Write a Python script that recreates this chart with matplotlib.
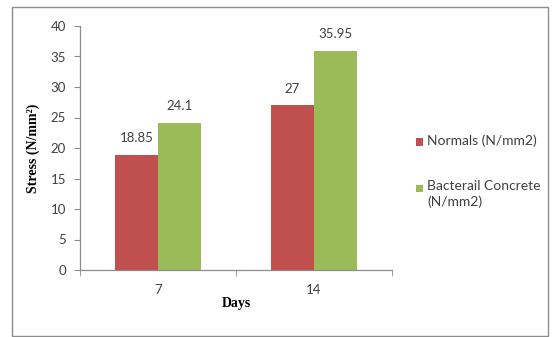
import matplotlib
matplotlib.use("Agg")
import matplotlib.pyplot as plt
from matplotlib.patches import Rectangle
import numpy as np

categories = ["7", "14"]
series_names = ["Normals (N/mm2)", "Bacterail Concrete\n(N/mm2)"]
normals = [18.85, 27]
bacterial = [24.1, 35.95]
value_labels_normals = ["18.85", "27"]
value_labels_bacterial = ["24.1", "35.95"]
colors = ["#C0504D", "#9BBB59"]
yticks = [0, 5, 10, 15, 20, 25, 30, 35, 40]

W, H = 553, 337
fig = plt.figure(figsize=(W / 100, H / 100), dpi=100)
fig.patch.set_facecolor("white")

# outer chart frame
fig.patches.append(Rectangle((12 / W, 1 - 336 / H), (548 - 12) / W, (336 - 7) / H,
                             transform=fig.transFigure, fill=False,
                             edgecolor="#8c8c8c", linewidth=1.0))

ax = fig.add_axes([80 / W, 1 - 270 / H, (392 - 80) / W, (270 - 26) / H])
x = np.arange(len(categories))
bw = 0.277
b1 = ax.bar(x - bw / 2, normals, bw, color=colors[0], edgecolor="none")
b2 = ax.bar(x + bw / 2, bacterial, bw, color=colors[1], edgecolor="none")

fam = ["Lato", "DejaVu Sans"]
tick_font = {"family": fam, "size": 9.5, "color": "#404040"}
for rects, labs in ((b1, value_labels_normals), (b2, value_labels_bacterial)):
    for r, lab in zip(rects, labs):
        ax.annotate(lab, (r.get_x() + r.get_width() / 2, r.get_height()),
                    xytext=(0, 12), textcoords="offset points",
                    ha="center", va="center", **tick_font)

ax.set_xlim(-0.5, len(categories) - 0.5)
ax.set_ylim(0, 40)
ax.set_yticks(yticks)
ax.set_yticklabels([str(t) for t in yticks], **tick_font)
ax.set_xticks(x)
ax.set_xticklabels(categories, **tick_font)
ax.tick_params(axis="x", length=0, pad=10)
ax.set_xticks(np.arange(-0.5, len(categories), 1.0), minor=True)
ax.tick_params(axis="x", which="minor", length=4, color="#8c8c8c", direction="out")
ax.tick_params(axis="y", length=4, color="#8c8c8c", direction="out", pad=6)
for s in ("top", "right"):
    ax.spines[s].set_visible(False)
for s in ("left", "bottom"):
    ax.spines[s].set_color("#8c8c8c")
    ax.spines[s].set_linewidth(0.9)

ax.set_xlabel("Days", family=["Liberation Serif"], fontweight="bold", size=10, labelpad=1)
ax.set_ylabel("Stress (N/mm\u00b2)", family=["Liberation Serif"], fontweight="bold", size=10, labelpad=8)

# legend
leg_font = {"family": fam, "size": 10, "color": "#404040"}
leg_y = [142, 188]
for name, col, yy in zip(series_names, colors, leg_y):
    fig.patches.append(Rectangle((416 / W, 1 - (yy + 3.5) / H), 7 / W, 7 / H,
                                 transform=fig.transFigure, facecolor=col, edgecolor="none"))
    fig.text(427 / W, 1 - (yy - 8) / H, name, ha="left", va="top",
             linespacing=1.35, **leg_font)

fig.savefig("out.png", dpi=100, facecolor="white")
